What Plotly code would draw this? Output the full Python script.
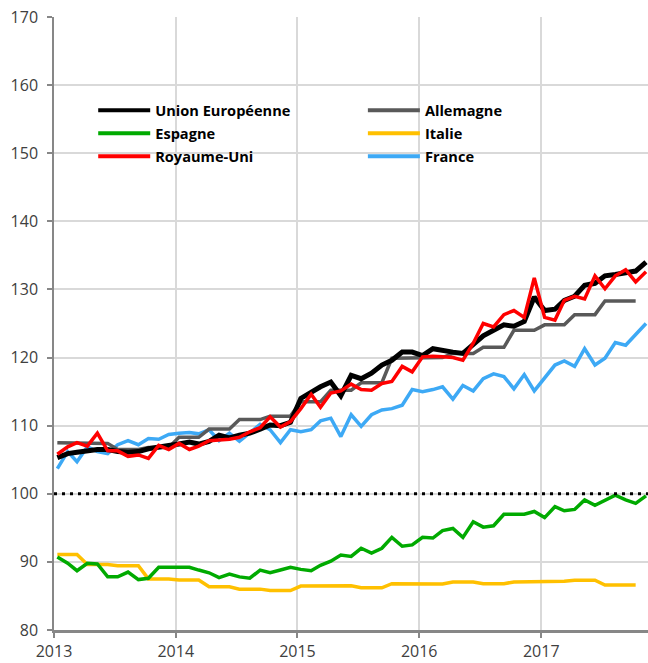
import pandas as pd
import plotly.graph_objects as go

# Monthly index, Jan 2013 .. Nov 2017
months = pd.date_range("2013-01-01", periods=59, freq="MS") + pd.Timedelta(days=10)

union_europeenne = [105.3, 105.9, 106.1, 106.3, 106.5, 106.5, 106.2, 106.1, 106.2, 106.6, 106.9, 107.1,
                    107.3, 107.6, 107.3, 107.7, 108.6, 108.2, 108.6, 108.9, 109.5, 110.1, 110.0, 110.5,
                    114.0, 115.0, 115.7, 116.4, 114.4, 117.4, 116.9, 117.7, 118.9, 119.6, 120.8, 120.8,
                    120.3, 121.3, 121.0, 120.8, 120.6, 122.0, 123.2, 124.0, 124.8, 124.6, 125.3, 128.9,
                    126.9, 127.1, 128.4, 129.0, 130.6, 130.9, 132.0, 132.2, 132.5, 132.7, 134.0]

allemagne = [107.5, 107.5, 107.5, 107.4, 107.4, 107.4, 106.5, 106.5, 106.5, 106.8, 106.8, 106.8,
             108.3, 108.3, 108.3, 109.5, 109.5, 109.5, 110.9, 110.9, 110.9, 111.4, 111.4, 111.4,
             113.5, 113.5, 113.5, 115.2, 115.2, 115.2, 116.3, 116.3, 116.3, 119.9, 119.9, 119.9,
             120.0, 120.0, 120.0, 120.6, 120.6, 120.6, 121.5, 121.5, 121.5, 124.0, 124.0, 124.0,
             124.8, 124.8, 124.8, 126.3, 126.3, 126.3, 128.3, 128.3, 128.3, 128.3]

espagne = [90.7, 89.8, 88.7, 89.8, 89.7, 87.8, 87.8, 88.5, 87.4, 87.6, 89.2, 89.2,
           89.3, 89.2, 88.8, 88.4, 87.7, 88.2, 87.8, 87.6, 88.8, 88.4, 88.8, 89.2,
           88.9, 88.7, 89.5, 90.1, 91.0, 90.8, 92.0, 91.3, 92.0, 93.6, 92.3, 92.5,
           93.6, 93.5, 94.6, 94.9, 93.6, 95.9, 95.1, 95.3, 97.0, 97.0, 97.0, 97.4,
           96.5, 98.1, 97.5, 97.7, 99.1, 98.3, 99.1, 99.8, 99.1, 98.6, 99.7]

italie = [91.1, 91.1, 91.1, 89.6, 89.6, 89.6, 89.45, 89.45, 89.45, 87.5, 87.5, 87.5,
          87.35, 87.35, 87.35, 86.35, 86.35, 86.35, 86.0, 86.0, 86.0, 85.8, 85.8, 85.8,
          86.45, 86.45, 86.45, 86.5, 86.5, 86.5, 86.2, 86.2, 86.2, 86.8, 86.8, 86.8,
          86.75, 86.75, 86.75, 87.05, 87.05, 87.05, 86.8, 86.8, 86.8, 87.05, 87.05, 87.05,
          87.15, 87.15, 87.15, 87.3, 87.3, 87.3, 86.6, 86.6, 86.6, 86.6]

royaume_uni = [105.8, 106.9, 107.5, 107.0, 108.9, 106.3, 106.3, 105.5, 105.7, 105.2, 107.1, 106.5,
               107.4, 106.5, 107.0, 107.8, 107.9, 108.0, 108.3, 109.1, 109.7, 111.3, 109.8, 110.6,
               112.5, 114.6, 112.7, 114.8, 115.1, 116.1, 115.3, 115.2, 116.2, 116.5, 118.7, 117.9,
               120.1, 120.2, 120.1, 120.0, 119.6, 122.1, 125.0, 124.5, 126.3, 126.9, 125.9, 131.7,
               125.9, 125.5, 128.4, 129.0, 128.6, 132.0, 130.1, 132.0, 132.9, 131.1, 132.6]

france = [103.7, 106.2, 104.7, 106.9, 106.2, 105.9, 107.2, 107.8, 107.2, 108.1, 108.0, 108.7,
          108.9, 109.0, 108.8, 109.4, 107.8, 108.9, 107.7, 108.9, 110.2, 109.4, 107.5, 109.4,
          109.1, 109.4, 110.7, 111.1, 108.4, 111.6, 109.9, 111.6, 112.3, 112.5, 113.0, 115.3,
          115.0, 115.3, 115.7, 113.9, 115.9, 115.1, 116.9, 117.6, 117.2, 115.4, 117.5, 115.1,
          117.1, 118.9, 119.5, 118.7, 121.3, 118.9, 119.9, 122.2, 121.8, 123.3, 125.0]

reference_level = 100
year_ticks = ["2013", "2014", "2015", "2016", "2017"]

# (name, values, colour, width, legend column)
series = [
    ("Union Européenne", union_europeenne, "#000000", 5, "legend"),
    ("Allemagne", allemagne, "#595959", 3.5, "legend2"),
    ("Espagne", espagne, "#00AA00", 3.5, "legend"),
    ("Italie", italie, "#FFC000", 3.5, "legend2"),
    ("Royaume-Uni", royaume_uni, "#FF0000", 3.5, "legend"),
    ("France", france, "#3DA9F5", 3.5, "legend2"),
]

fig = go.Figure()
draw_order = ["Italie", "Espagne", "France", "Allemagne", "Union Européenne", "Royaume-Uni"]
for name in draw_order:
    for nm, vals, col, w, lg in series:
        if nm == name:
            fig.add_trace(go.Scatter(x=months[:len(vals)], y=vals, name=nm, mode="lines",
                                     line=dict(color=col, width=w), showlegend=False))

# legend entries in reference order (two columns)
for k, (nm, vals, col, w, lg) in enumerate(series):
    fig.add_trace(go.Scatter(x=[None], y=[None], name=nm, mode="lines", legend=lg,
                             legendgroup="g%d" % k, line=dict(color=col, width=4)))

fig.add_hline(y=reference_level, line=dict(color="black", width=3, dash="3px,5px"), layer="above")

font_family = "Open Sans, Noto Sans, DejaVu Sans, sans-serif"
legend_common = dict(orientation="v", xanchor="left", yanchor="top", itemwidth=52,
                     font=dict(size=14.6, color="black", weight="bold"),
                     bgcolor="rgba(0,0,0,0)", tracegroupgap=1)
fig.update_layout(
    width=648, height=663,
    margin=dict(l=54, r=0, t=17, b=33),
    paper_bgcolor="white", plot_bgcolor="white",
    font=dict(family=font_family, color="#404040", size=16),
    legend=dict(x=0.066, y=0.874, **legend_common),
    legend2=dict(x=0.52, y=0.874, **legend_common),
    showlegend=True,
)
fig.update_xaxes(
    type="date", range=["2013-01-01", "2017-11-17"],
    tickvals=[pd.Timestamp(y + "-01-01") for y in year_ticks], ticktext=year_ticks,
    showgrid=True, gridcolor="#D9D9D9", gridwidth=1.5,
    showline=True, linecolor="#878787", linewidth=2.5,
    ticks="outside", ticklen=5, tickcolor="#878787", tickwidth=1.5,
    zeroline=False,
)
fig.update_yaxes(
    range=[80, 170], tickvals=list(range(80, 171, 10)),
    showgrid=True, gridcolor="#D9D9D9", gridwidth=1.5,
    showline=True, linecolor="#878787", linewidth=1.5,
    ticks="outside", ticklen=5, tickcolor="#878787", tickwidth=1.5,
    ticklabelstandoff=6, zeroline=False,
)

fig.write_html("out.html", config={"displayModeBar": False},
               post_script="document.body.style.margin='0';document.body.style.padding='0';")
